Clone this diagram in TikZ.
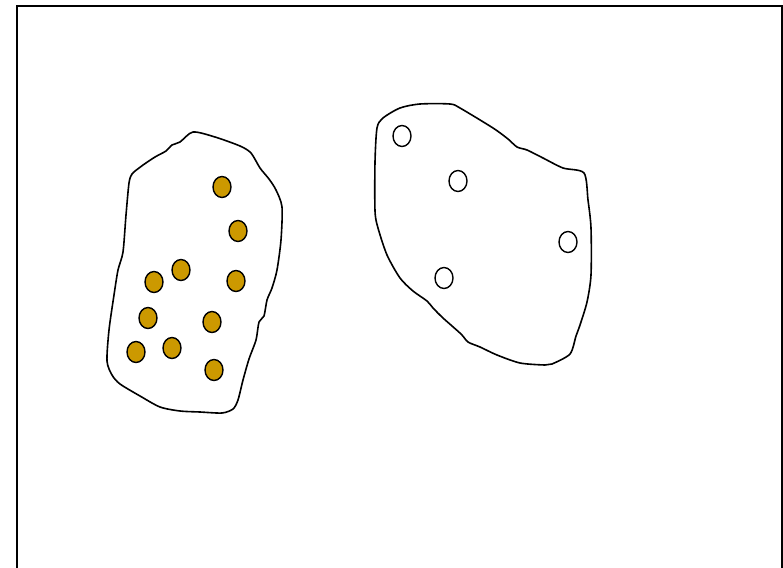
\documentclass[tikz,border=0pt]{standalone}
\usetikzlibrary{shapes.geometric}
\begin{document}
\begin{tikzpicture}[x=1pt,y=-1pt,
  outline/.style={draw=black,line width=1.6pt,line join=round},
  frameline/.style={draw=black,line width=2pt},
  golddot/.style={ellipse,draw=black,line width=1.4pt,fill=gold,minimum width=18pt,minimum height=21pt,inner sep=0pt},
  whitedot/.style={ellipse,draw=black,line width=1.4pt,fill=white,minimum width=18pt,minimum height=21pt,inner sep=0pt}]
\definecolor{gold}{RGB}{204,153,0}
\useasboundingbox (0,0) rectangle (783,567);
\clip (0,0) rectangle (783,567);
\draw[frameline] (17,600) -- (17,6) -- (781.5,6) -- (781.5,600);
% left blob
\draw[outline] plot[smooth cycle,tension=0.45] coordinates {
 (193,132) (215,137) (240,146) (251,153) (260,168) (269,179) (276,190) (282,207)
 (281,240) (277,270) (272,288) (267,300) (264,316) (259,322) (256,340) (249,359)
 (243,380) (238,400) (233,409) (222,413) (200,412) (180,411) (160,407) (140,396)
 (120,384) (112,375) (107,361) (109,330) (114,295) (118,270) (123,252) (126,215)
 (129,183) (132,174) (139,168) (143,165) (155,157) (166,151) (172,145) (180,142) };
% right blob
\draw[outline] plot[smooth cycle,tension=0.45] coordinates {
 (420,104) (450,104) (460,108) (493,128) (508,139) (517,147) (527,150) (543,158)
 (563,168) (584,173) (588,200) (591,228) (591,275) (587,302) (580,325) (576,336)
 (570,354) (552,364) (545,365) (520,363) (497,355) (480,347) (468,342) (461,334)
 (443,318) (433,308) (427,301) (413,291) (400,278) (387,255) (378,228) (375,211)
 (375,162) (377,128) (383,118) (400,108) };
% gold dots
\node[golddot] (g1) at (222,187) {};
\node[golddot] (g2) at (238,231) {};
\node[golddot] (g3) at (181,270) {};
\node[golddot] (g4) at (154,282) {};
\node[golddot] (g5) at (236,281) {};
\node[golddot] (g6) at (148,318) {};
\node[golddot] (g7) at (212,322) {};
\node[golddot] (g8) at (136,352) {};
\node[golddot] (g9) at (172,348) {};
\node[golddot] (g10) at (214,370) {};
% white dots
\node[whitedot] (w1) at (402,136) {};
\node[whitedot] (w2) at (458,181) {};
\node[whitedot] (w3) at (568,242) {};
\node[whitedot] (w4) at (444,278) {};
\end{tikzpicture}
\end{document}
